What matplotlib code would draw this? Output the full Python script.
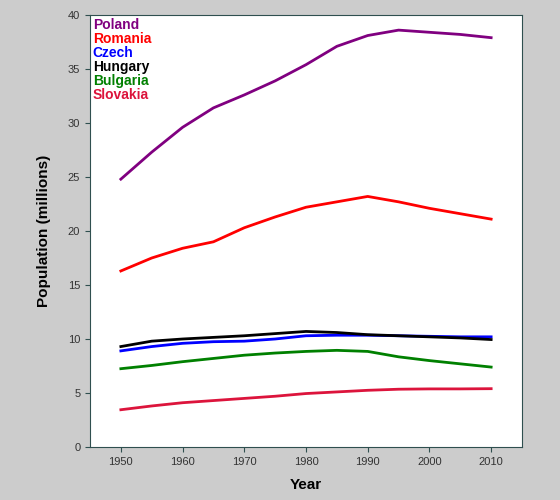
import matplotlib
matplotlib.use("Agg")
import matplotlib.pyplot as plt

plt.rcParams['font.family'] = ['Liberation Sans', 'DejaVu Sans']

years = [1950,1955,1960,1965,1970,1975,1980,1985,1990,1995,2000,2005,2010]
poland   = [24.8,27.3,29.6,31.4,32.6,33.9,35.4,37.1,38.1,38.6,38.4,38.2,37.9]
romania  = [16.3,17.5,18.4,19.0,20.3,21.3,22.2,22.7,23.2,22.7,22.1,21.6,21.1]
czech    = [8.9,9.3,9.6,9.75,9.8,10.0,10.3,10.35,10.35,10.3,10.25,10.2,10.2]
hungary  = [9.3,9.8,10.0,10.15,10.3,10.5,10.7,10.6,10.4,10.3,10.2,10.1,9.95]
bulgaria = [7.25,7.55,7.9,8.2,8.5,8.7,8.85,8.95,8.85,8.35,8.0,7.7,7.4]
slovakia = [3.45,3.8,4.1,4.3,4.5,4.7,4.95,5.1,5.25,5.35,5.38,5.38,5.4]

names = ['Poland','Romania','Czech','Hungary','Bulgaria','Slovakia']
series = [poland, romania, czech, hungary, bulgaria, slovakia]
colors = ['#800080','#ff0000','#0000ff','#000000','#008000','#dc143c']

fig = plt.figure(figsize=(5.6,5.0), dpi=100, facecolor='#cccccc')
ax = fig.add_axes([90/560, 53/500, 432/560, 432/500])
ax.set_facecolor('white')
for n, s, c in zip(names, series, colors):
    ax.plot(years, s, color=c, lw=2, label=n, solid_joinstyle='round')
ax.set_xlim(1945, 2015)
ax.set_ylim(0, 40)
ax.set_xticks(range(1950, 2011, 10))
ax.set_yticks(range(0, 41, 5))
frame = '#2f4f4f'
for sp in ax.spines.values():
    sp.set_color(frame)
ax.tick_params(colors=frame, labelsize=8, labelcolor='#333333')
ax.set_xlabel('Year', fontsize=11, fontweight='bold', labelpad=8)
ax.set_ylabel('Population (millions)', fontsize=11, fontweight='bold', labelpad=12)
leg = ax.legend(loc='upper left', frameon=False, handlelength=0, handletextpad=0,
                borderaxespad=0.0, borderpad=0.2, labelspacing=0.0,
                prop={'weight':'bold','size':10})
for t, c in zip(leg.get_texts(), colors):
    t.set_color(c)
for h in leg.legend_handles:
    h.set_visible(False)
fig.savefig('out.png', facecolor=fig.get_facecolor())
